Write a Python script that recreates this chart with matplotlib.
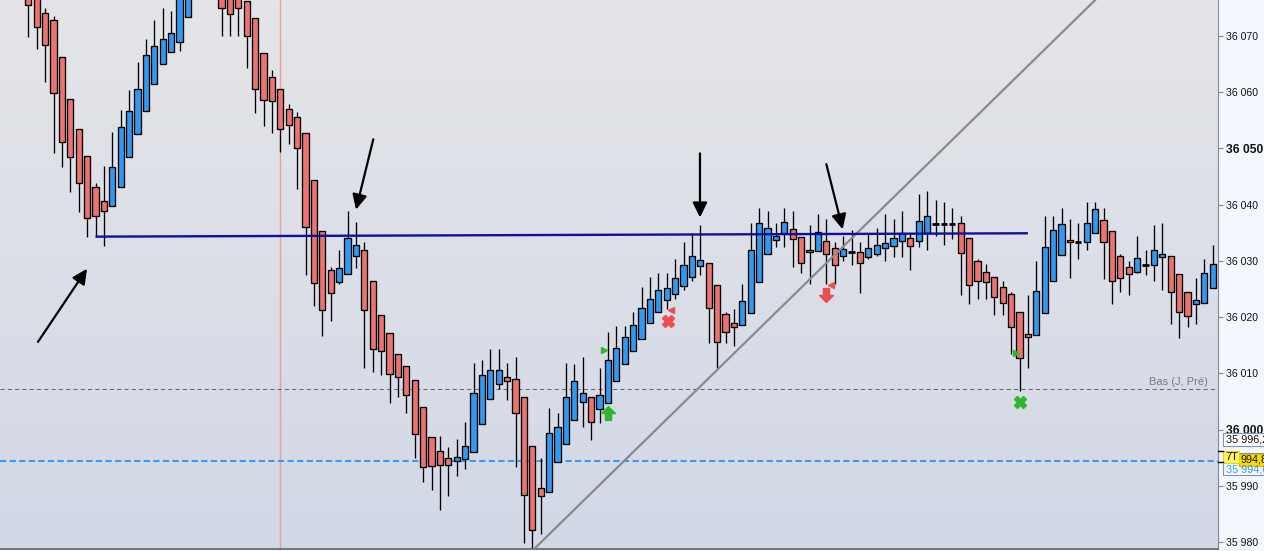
import numpy as np
import matplotlib
matplotlib.use("Agg")
import matplotlib.pyplot as plt
from matplotlib.colors import LinearSegmentedColormap
from matplotlib.patches import Rectangle
from matplotlib.path import Path

plt.rcParams['font.family'] = ['Liberation Sans', 'DejaVu Sans']

# ---------------- data (OHLC, one value per bar) ----------------
opens = [36079, 36077, 36074, 36072.7, 36066.2, 36058.7, 36053.5, 36048.6, 36043.1, 36040.6,
         36039.7, 36043.2, 36048.4, 36052.5, 36056.6, 36061.5, 36064.9, 36067.1, 36068.8, 36073.3,
         36081, 36086, 36085, 36080, 36079, 36078, 36076.1, 36073.1, 36066.9, 36062.6,
         36060.5, 36056.9, 36055.5, 36052.8, 36044.3, 36035.3, 36028.3, 36026.2, 36027.6, 36030.8,
         36031.9, 36026.5, 36020.3, 36017.1, 36013.5, 36011.4, 36008.8, 36004.0, 35998.7, 35996.2,
         35994.9, 35994.4, 35994.8, 35996.0, 36001.1, 36005.4, 36008.1, 36009.3, 36009.0, 36005.9,
         35997.1, 35989.6, 35989.0, 35994.2, 35997.4, 36001.7, 36005.0, 36005.9, 36003.6, 36004.8,
         36008.6, 36011.6, 36013.9, 36016.2, 36018.9, 36021.0, 36023.0, 36024.1, 36025.5, 36027.2,
         36029.0, 36029.6, 36025.7, 36020.5, 36018.9, 36018.6, 36020.7, 36026.2, 36031.3, 36033.7,
         36034.9, 36035.7, 36034.2, 36031.9, 36031.7, 36033.5, 36032.3, 36030.8, 36031.5, 36031.5,
         36030.6, 36031.3, 36032.2, 36032.6, 36033.5, 36034.0, 36033.5, 36035.0, 36036.6, 36036.6,
         36036.6, 36036.7, 36034.0, 36029.9, 36028.1, 36027.1, 36025.3, 36024.1, 36021.0, 36017.0,
         36016.8, 36020.7, 36026.5, 36031.0, 36033.7, 36033.4, 36033.3, 36035.0, 36037.2, 36035.3,
         36030.8, 36028.9, 36028.1, 36029.3, 36029.2, 36030.6, 36030.8, 36027.6, 36024.4, 36022.3,
         36022.6, 36025.1]
highs = [36081, 36078, 36075, 36073.5, 36066.2, 36058.7, 36053.5, 36048.6, 36043.8, 36046.9,
         36052.9, 36056.8, 36060.4, 36065.3, 36069.4, 36072.8, 36074.9, 36074.4, 36079, 36083,
         36088, 36090, 36087, 36081, 36080, 36079, 36076.1, 36073.1, 36066.9, 36063.9,
         36060.5, 36057.9, 36056.4, 36052.8, 36044.3, 36035.3, 36028.9, 36032.0, 36038.9, 36036.9,
         36033.3, 36026.5, 36020.3, 36017.1, 36013.5, 36011.4, 36008.8, 36004.0, 35998.7, 35998.9,
         35996.9, 35998.4, 36001.4, 36011.9, 36012.4, 36014.3, 36014.3, 36011.9, 36013.0, 36005.9,
         35997.1, 35995.0, 36003.9, 36003.0, 36011.9, 36011.6, 36013.0, 36005.9, 36011.0, 36017.4,
         36018.4, 36018.4, 36020.9, 36025.4, 36027.1, 36027.8, 36027.8, 36030.3, 36033.4, 36035.0,
         36036.4, 36029.6, 36025.7, 36020.9, 36021.4, 36025.8, 36036.8, 36039.3, 36038.8, 36036.8,
         36039.3, 36038.8, 36034.2, 36036.3, 36038.3, 36037.4, 36033.3, 36034.5, 36035.4, 36033.3,
         36034.9, 36035.8, 36038.3, 36037.4, 36038.8, 36034.9, 36041.8, 36042.4, 36040.8, 36040.4,
         36039.3, 36037.9, 36034.0, 36030.3, 36029.4, 36027.1, 36026.4, 36024.4, 36021.0, 36023.9,
         36030.0, 36038.0, 36038.0, 36039.3, 36037.4, 36036.8, 36040.4, 36040.4, 36039.3, 36035.3,
         36031.3, 36029.9, 36034.4, 36031.9, 36036.3, 36036.8, 36030.8, 36027.6, 36024.4, 36026.9,
         36030.3, 36032.8]
lows = [36069.8, 36067.7, 36061.8, 36049.2, 36046.7, 36042.3, 36038.7, 36034.3, 36034.3, 36032.7,
        36039.7, 36043.2, 36048.4, 36052.5, 36056.6, 36061.5, 36064.9, 36067.1, 36067.2, 36073.3,
        36079, 36083, 36080, 36069.9, 36069.9, 36069.9, 36064.3, 36056.3, 36053.9, 36052.8,
        36049.3, 36050.8, 36042.8, 36027.4, 36021.9, 36016.7, 36019.4, 36025.8, 36027.6, 36028.8,
        36010.9, 36010.3, 36009.8, 36004.8, 36005.8, 36002.9, 35994.9, 35990.8, 35989.3, 35985.8,
        35988.3, 35991.8, 35993.0, 35996.0, 36001.1, 36005.4, 36007.3, 36005.3, 35993.3, 35979.8,
        35978.5, 35981.4, 35989.0, 35994.2, 35997.4, 36001.7, 36000.4, 35998.2, 36001.2, 36004.8,
        36008.6, 36011.6, 36013.9, 36016.2, 36018.9, 36021.0, 36021.5, 36023.3, 36024.8, 36026.4,
        36027.4, 36015.4, 36011.0, 36015.4, 36014.8, 36018.6, 36020.7, 36026.2, 36031.3, 36032.4,
        36032.4, 36028.9, 36027.8, 36025.8, 36031.7, 36025.8, 36025.8, 36029.9, 36029.3, 36024.3,
        36030.3, 36030.8, 36029.9, 36030.6, 36030.7, 36028.3, 36032.4, 36031.9, 36034.4, 36032.8,
        36033.8, 36023.9, 36022.3, 36023.3, 36023.2, 36020.3, 36020.3, 36013.4, 36006.8, 36010.9,
        36016.8, 36020.7, 36026.5, 36031.0, 36026.9, 36030.3, 36031.9, 36035.0, 36026.7, 36022.3,
        36024.4, 36023.9, 36027.8, 36027.4, 36026.4, 36024.8, 36018.8, 36016.3, 36018.3, 36018.8,
        36022.6, 36025.1]
closes = [36075.4, 36071.5, 36068.3, 36059.8, 36051.2, 36048.4, 36043.8, 36037.6, 36037.9, 36038.8,
          36046.6, 36053.7, 36056.7, 36060.5, 36066.5, 36068.1, 36069.4, 36070.4, 36077.5, 36081,
          36086, 36085, 36081, 36074.9, 36073.8, 36074.9, 36070.0, 36060.5, 36058.6, 36058.4,
          36053.4, 36054.2, 36050.0, 36036.0, 36026.0, 36021.2, 36024.2, 36028.8, 36034.0, 36032.8,
          36021.2, 36014.3, 36013.9, 36009.9, 36009.3, 36006.1, 35999.2, 35993.3, 35993.5, 35993.7,
          35993.7, 35995.1, 35997.1, 36006.5, 36009.7, 36010.6, 36010.6, 36008.6, 36002.9, 35988.4,
          35982.1, 35988.2, 35999.5, 36000.4, 36005.9, 36008.6, 36006.6, 36001.3, 36006.1, 36012.3,
          36014.5, 36016.4, 36018.6, 36021.6, 36023.2, 36024.8, 36025.1, 36026.9, 36029.2, 36030.8,
          36030.1, 36021.7, 36015.5, 36017.3, 36018.2, 36022.8, 36031.9, 36036.7, 36035.8, 36034.5,
          36036.9, 36033.8, 36029.6, 36031.5, 36035.1, 36031.2, 36029.2, 36032.1, 36031.5, 36029.6,
          36032.2, 36032.8, 36033.2, 36034.0, 36034.9, 36032.6, 36037.0, 36037.9, 36036.6, 36036.6,
          36036.6, 36031.4, 36025.7, 36026.4, 36026.2, 36023.5, 36022.6, 36018.2, 36012.7, 36016.4,
          36024.6, 36032.4, 36035.4, 36036.5, 36033.3, 36033.4, 36036.7, 36039.2, 36033.3, 36026.5,
          36026.9, 36027.6, 36030.5, 36029.3, 36031.9, 36031.2, 36024.4, 36021.0, 36020.2, 36023.0,
          36027.8, 36029.4]

yticks = [35980, 35990, 36000, 36010, 36020, 36030, 36040, 36050, 36060, 36070]
bold_ticks = [36000, 36050]

resistance_line = [(8, 36034.3), (119, 36034.9)]
trend_line = [(60, 35978.5), (130, 36080.7)]
low_prev_day = 36007.2      # "Bas (J, Pré)" level
blue_level = 35994.45
red_vline_bar = 30

# ---------------- figure ----------------
W, H = 1264, 551
fig = plt.figure(figsize=(W / 100, H / 100), dpi=100)
fig.patch.set_facecolor('#f4f7fd')

ax = fig.add_axes([0, 2 / H, 1218 / W, 549 / H])
x0, x1 = -3.37, 141.63
y0, y1 = 35978.81, 36076.34
ax.set_xlim(x0, x1)
ax.set_ylim(y0, y1)

# background gradient
cmap = LinearSegmentedColormap.from_list('bg', ['#e4e5e8', '#d2d8e6'])
ax.imshow(np.linspace(0, 1, 256).reshape(-1, 1), cmap=cmap, extent=[x0, x1, y0, y1],
          aspect='auto', zorder=0)

n = len(opens)
xs = np.arange(n)
o = np.array(opens); h = np.array(highs); l = np.array(lows); c = np.array(closes)

# red vertical line
ax.axvline(red_vline_bar, color='#f39a9a', lw=1.0, zorder=1)

# dashed levels
ax.axhline(low_prev_day, color='#6a6a6a', lw=0.75, dashes=(4, 3), zorder=1)
ax.axhline(blue_level, color='#3a9af5', lw=1.5, dashes=(3, 1.6), zorder=1)
ax.text(140.4, low_prev_day + 1.3, 'Bas (J, Pré)', ha='right', va='center',
        fontsize=8, color='#7a7a7a', zorder=2)

# wicks
ax.vlines(xs, l, h, color='black', lw=0.95, zorder=2)

# bodies
bw = 0.72
up = c > o
down = c < o
doji = c == o
ax.bar(xs[up], (c - o)[up], bottom=o[up], width=bw, color='#3399f0',
       edgecolor='black', linewidth=0.95, zorder=3)
ax.bar(xs[down], (o - c)[down], bottom=c[down], width=bw, color='#ec7370',
       edgecolor='black', linewidth=0.95, zorder=3)
ax.hlines(c[doji], xs[doji] - bw / 2, xs[doji] + bw / 2, color='black', lw=2, zorder=3)

# resistance line and trend line
ax.plot([p[0] for p in resistance_line], [p[1] for p in resistance_line],
        color='#10109a', lw=1.7, zorder=5, solid_capstyle='butt')
ax.plot([p[0] for p in trend_line], [p[1] for p in trend_line],
        color='#8a8a8a', lw=1.6, zorder=4)

# arrows
arrows = [((1.15, 36015.6), (6.99, 36028.6)),
          ((41.07, 36051.6), (39.01, 36039.1)),
          ((79.96, 36049.1), (79.96, 36037.7)),
          ((95.0, 36047.2), (96.95, 36035.6))]
for tail, tip in arrows:
    ax.annotate('', xy=tip, xytext=tail,
                arrowprops=dict(arrowstyle='-|>,head_length=0.45,head_width=0.22',
                                color='black', lw=1.6, mutation_scale=20,
                                shrinkA=0, shrinkB=0), zorder=6)

# signal markers
up_arrow = Path([(-0.22, -0.5), (0.22, -0.5), (0.22, 0.0), (0.5, 0.0), (0.0, 0.5),
                 (-0.5, 0.0), (-0.22, 0.0), (-0.22, -0.5)])
down_arrow = Path([(-0.22, 0.5), (0.22, 0.5), (0.22, 0.0), (0.5, 0.0), (0.0, -0.5),
                   (-0.5, 0.0), (-0.22, 0.0), (-0.22, 0.5)])
green = '#2fb52f'
red = '#ec4d4f'
ax.plot(68.55, 36014.1, marker='>', ms=4.5, color=green, mec=green, zorder=6)
ax.plot(69.0, 36002.9, marker=up_arrow, ms=10, color=green, mec=green, zorder=6)
ax.plot(117.6, 36013.6, marker='>', ms=4.5, color=green, mec=green, zorder=6)
ax.plot(118.1, 36004.9, marker='X', ms=9, color=green, mec=green, zorder=6)
ax.plot(76.1, 36019.4, marker='X', ms=9, color=red, mec=red, zorder=6)
ax.plot(76.55, 36021.2, marker='<', ms=4.5, color=red, mec=red, zorder=6)
ax.plot(95.0, 36023.9, marker=down_arrow, ms=10, color=red, mec=red, zorder=6)
ax.plot(95.6, 36025.7, marker='<', ms=4.5, color=red, mec=red, zorder=6)

# axes styling
for s in ['top', 'left']:
    ax.spines[s].set_visible(False)
ax.spines['right'].set_color('#7d8b98')
ax.spines['bottom'].set_color('#606060')
ax.spines['bottom'].set_linewidth(1.2)
ax.set_xticks([])
ax.yaxis.tick_right()
ax.set_yticks(yticks)
ax.set_yticklabels([f"{v // 1000} {v % 1000:03d}" for v in yticks])
ax.tick_params(axis='y', direction='out', length=3.6, width=0.8, color='#7d8b98',
               labelsize=7.6, pad=2, labelcolor='#111111')
for lab, v in zip(ax.get_yticklabels(), yticks):
    if v in bold_ticks:
        lab.set_fontweight('bold')
        lab.set_fontsize(8.7)


# ---------------- price boxes on the right axis ----------------
def fx(px):
    return px / W


def fy(py):
    return 1 - py / H


def box(xl, yt, xr, yb, fc, ec):
    fig.patches.append(Rectangle((fx(xl), fy(yb)), fx(xr) - fx(xl), fy(yt) - fy(yb),
                                 transform=fig.transFigure, facecolor=fc, edgecolor=ec,
                                 linewidth=0.8, zorder=10))


box(1223, 453, 1275, 475, '#f4f7fd', '#8795a3')
fig.text(fx(1226), fy(470), '35 994,6', fontsize=7.8, color='#3a9af5', va='center', zorder=11)
box(1223, 433, 1275, 446, '#ffffff', '#8795a3')
fig.text(fx(1226), fy(439.5), '35 996,2', fontsize=7.8, color='#111111', va='center', zorder=11)
box(1239, 453.5, 1275, 466, '#f7dc00', '#d9b800')
fig.text(fx(1240.5), fy(460), '994,8', fontsize=7.8, color='#111111', va='center', zorder=13)
box(1223, 450.5, 1239, 462.5, '#fff45a', '#e0d030')
fig.text(fx(1225), fy(456.5), '7T', fontsize=8, color='#111111', va='center', zorder=13)
for py in (450.7, 461.7):
    fig.add_artist(plt.Line2D([fx(1218), fx(1223)], [fy(py), fy(py)], color='black',
                              lw=1.0, transform=fig.transFigure, zorder=14))

fig.savefig('out.png', dpi=100, facecolor=fig.get_facecolor())
